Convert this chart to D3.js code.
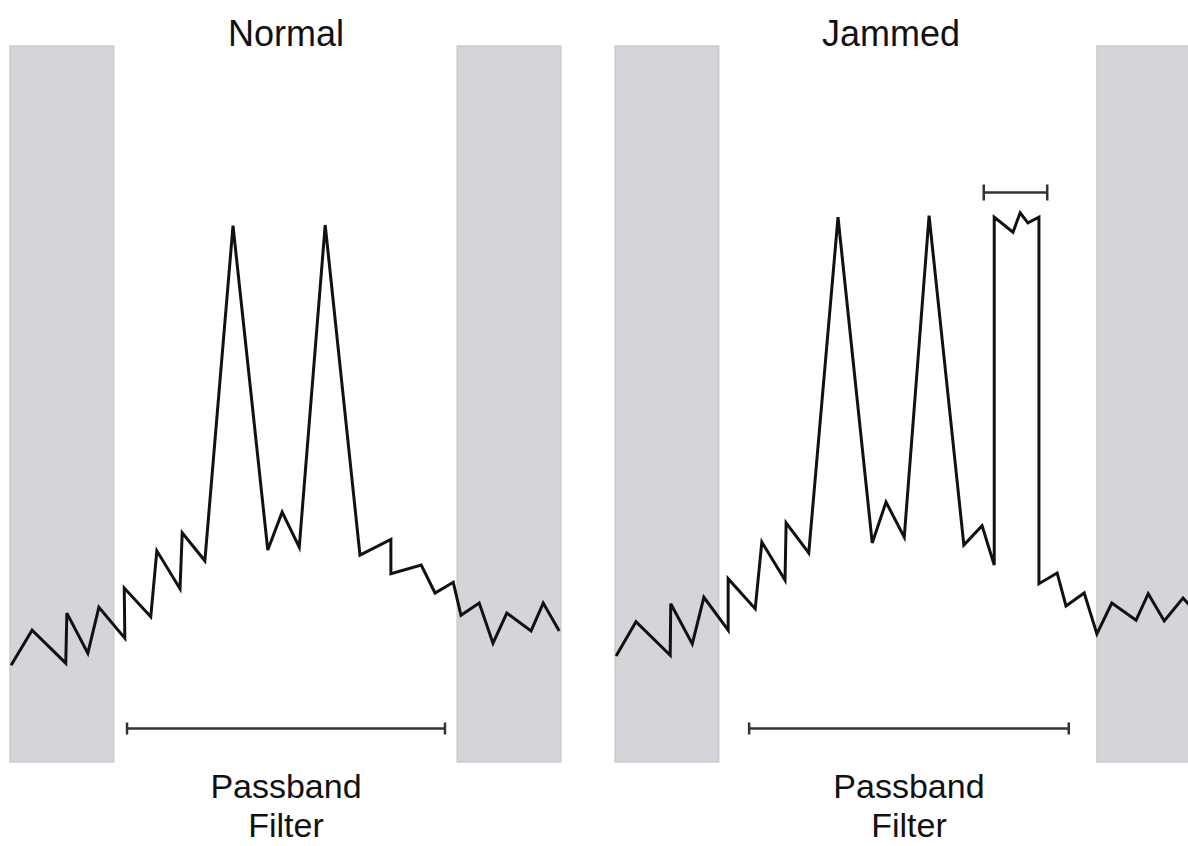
<!DOCTYPE html>
<html>
<head>
<meta charset="utf-8">
<script src="https://cdn.jsdelivr.net/npm/d3@7"></script>
<style>
  html, body { margin: 0; padding: 0; background: #ffffff; }
  svg { display: block; }
  text { font-family: "Liberation Sans", "Noto Sans", sans-serif; fill: #111; }
</style>
</head>
<body>
<svg id="chart" width="1188" height="846"></svg>
<script>
// ---------- data (frequency units 0..100 per panel, amplitude 0..100) ----------
const panelTitles = ["Normal", "Jammed"];
const bandLabel = ["Passband", "Filter"];

const normalFreq = [0.2, 4.0, 10.1, 10.3, 14.1, 16.1, 20.8, 20.7, 25.5, 26.6, 30.8, 31.2, 35.3,
  40.4, 46.7, 49.3, 52.4, 57.1, 63.4, 69.0, 69.0, 74.5, 77.0, 80.3, 81.7, 85.0, 87.5, 90.0, 94.4, 96.6, 99.5];
const normalAmp = [13.5, 18.4, 13.8, 20.8, 15.2, 21.6, 17.3, 24.3, 20.3, 29.5, 24.2, 32.0, 28.1,
  74.9, 29.6, 34.9, 30.0, 75.0, 28.9, 31.1, 26.3, 27.5, 23.6, 25.1, 20.5, 22.2, 16.6, 20.8, 18.3, 22.2, 18.3];

const jammedFreq = [0.2, 3.8, 10.0, 10.1, 14.0, 16.1, 20.5, 20.5, 25.4, 26.6, 30.8, 31.0, 35.1,
  40.4, 46.6, 49.1, 52.4, 56.9, 63.2, 66.5, 68.7, 68.7, 72.1, 73.4, 74.8, 76.8, 76.8,
  80.1, 81.7, 85.0, 87.3, 90.0, 94.4, 96.6, 99.5, 102.9, 104.2];
const jammedAmp = [14.8, 19.6, 14.9, 22.1, 16.5, 23.0, 18.4, 25.6, 21.4, 30.7, 25.4, 33.4, 29.2,
  76.1, 30.6, 36.3, 31.4, 76.3, 30.3, 33.0, 27.5, 76.1, 74.0, 76.7, 75.3, 76.1, 24.9,
  26.4, 21.8, 23.6, 17.9, 22.2, 19.8, 23.5, 19.7, 22.9, 21.8];

// stop bands (grey) [from, to] in frequency units
const normalStopbands = [[0, 18.8], [81.0, 99.8]];
const jammedStopbands = [[0, 18.8], [87.3, 106.2]];

// passband span [from, to] and level
const normalPassband = [21.2, 78.8];
const jammedPassband = [24.3, 82.2];
const passbandLevel = 4.7;

// jamming bandwidth marker [from, to] and level
const jamMarker = [66.8, 78.3];
const jamMarkerLevel = 79.6;

// ---------- drawing ----------
const svg = d3.select("#chart");
const y = d3.scaleLinear().domain([0, 100]).range([762, 46]);

const panels = [
  { title: panelTitles[0], freq: normalFreq, amp: normalAmp, stop: normalStopbands, pass: normalPassband,
    x: d3.scaleLinear().domain([0, 100]).range([10, 562]) },
  { title: panelTitles[1], freq: jammedFreq, amp: jammedAmp, stop: jammedStopbands, pass: jammedPassband,
    x: d3.scaleLinear().domain([0, 100]).range([615, 1167]), marker: jamMarker }
];

function bracket(g, x, x0, x1, level, capH) {
  const yy = Math.round(y(level)) + 0.5;
  const s = g.append("g").attr("stroke", "#333").attr("stroke-width", 2.5).attr("fill", "none");
  s.append("line").attr("x1", x(x0)).attr("x2", x(x1)).attr("y1", yy).attr("y2", yy);
  s.append("line").attr("x1", x(x0)).attr("x2", x(x0)).attr("y1", yy - capH).attr("y2", yy + capH);
  s.append("line").attr("x1", x(x1)).attr("x2", x(x1)).attr("y1", yy - capH).attr("y2", yy + capH);
}

panels.forEach(p => {
  const g = svg.append("g");
  const x = p.x;

  // grey stop bands
  g.selectAll("rect.stop").data(p.stop).join("rect")
    .attr("class", "stop")
    .attr("x", d => x(d[0]))
    .attr("y", y(100))
    .attr("width", d => x(d[1]) - x(d[0]))
    .attr("height", y(0) - y(100))
    .attr("fill", "#d4d5d8")
    .attr("stroke", "#c4c5c9")
    .attr("stroke-width", 1.2);

  // title
  g.append("text")
    .attr("x", x(50)).attr("y", 46)
    .attr("text-anchor", "middle")
    .attr("font-size", 36)
    .text(p.title);

  // spectrum line
  const pts = p.freq.map((f, i) => [f, p.amp[i]]);
  const line = d3.line().x(d => x(d[0])).y(d => y(d[1]));
  g.append("path")
    .attr("d", line(pts))
    .attr("fill", "none")
    .attr("stroke", "#111")
    .attr("stroke-width", 3)
    .attr("stroke-linejoin", "miter")
    .attr("stroke-miterlimit", 4);

  // passband bracket
  bracket(g, x, p.pass[0], p.pass[1], passbandLevel, 6);

  // jam marker
  if (p.marker) bracket(g, x, p.marker[0], p.marker[1], jamMarkerLevel, 8);

  // passband label
  const cx = (x(p.pass[0]) + x(p.pass[1])) / 2;
  g.selectAll("text.lbl").data(bandLabel).join("text")
    .attr("class", "lbl")
    .attr("x", cx)
    .attr("y", (d, i) => 798 + i * 39)
    .attr("text-anchor", "middle")
    .attr("font-size", 34)
    .text(d => d);
});
</script>
</body>
</html>
